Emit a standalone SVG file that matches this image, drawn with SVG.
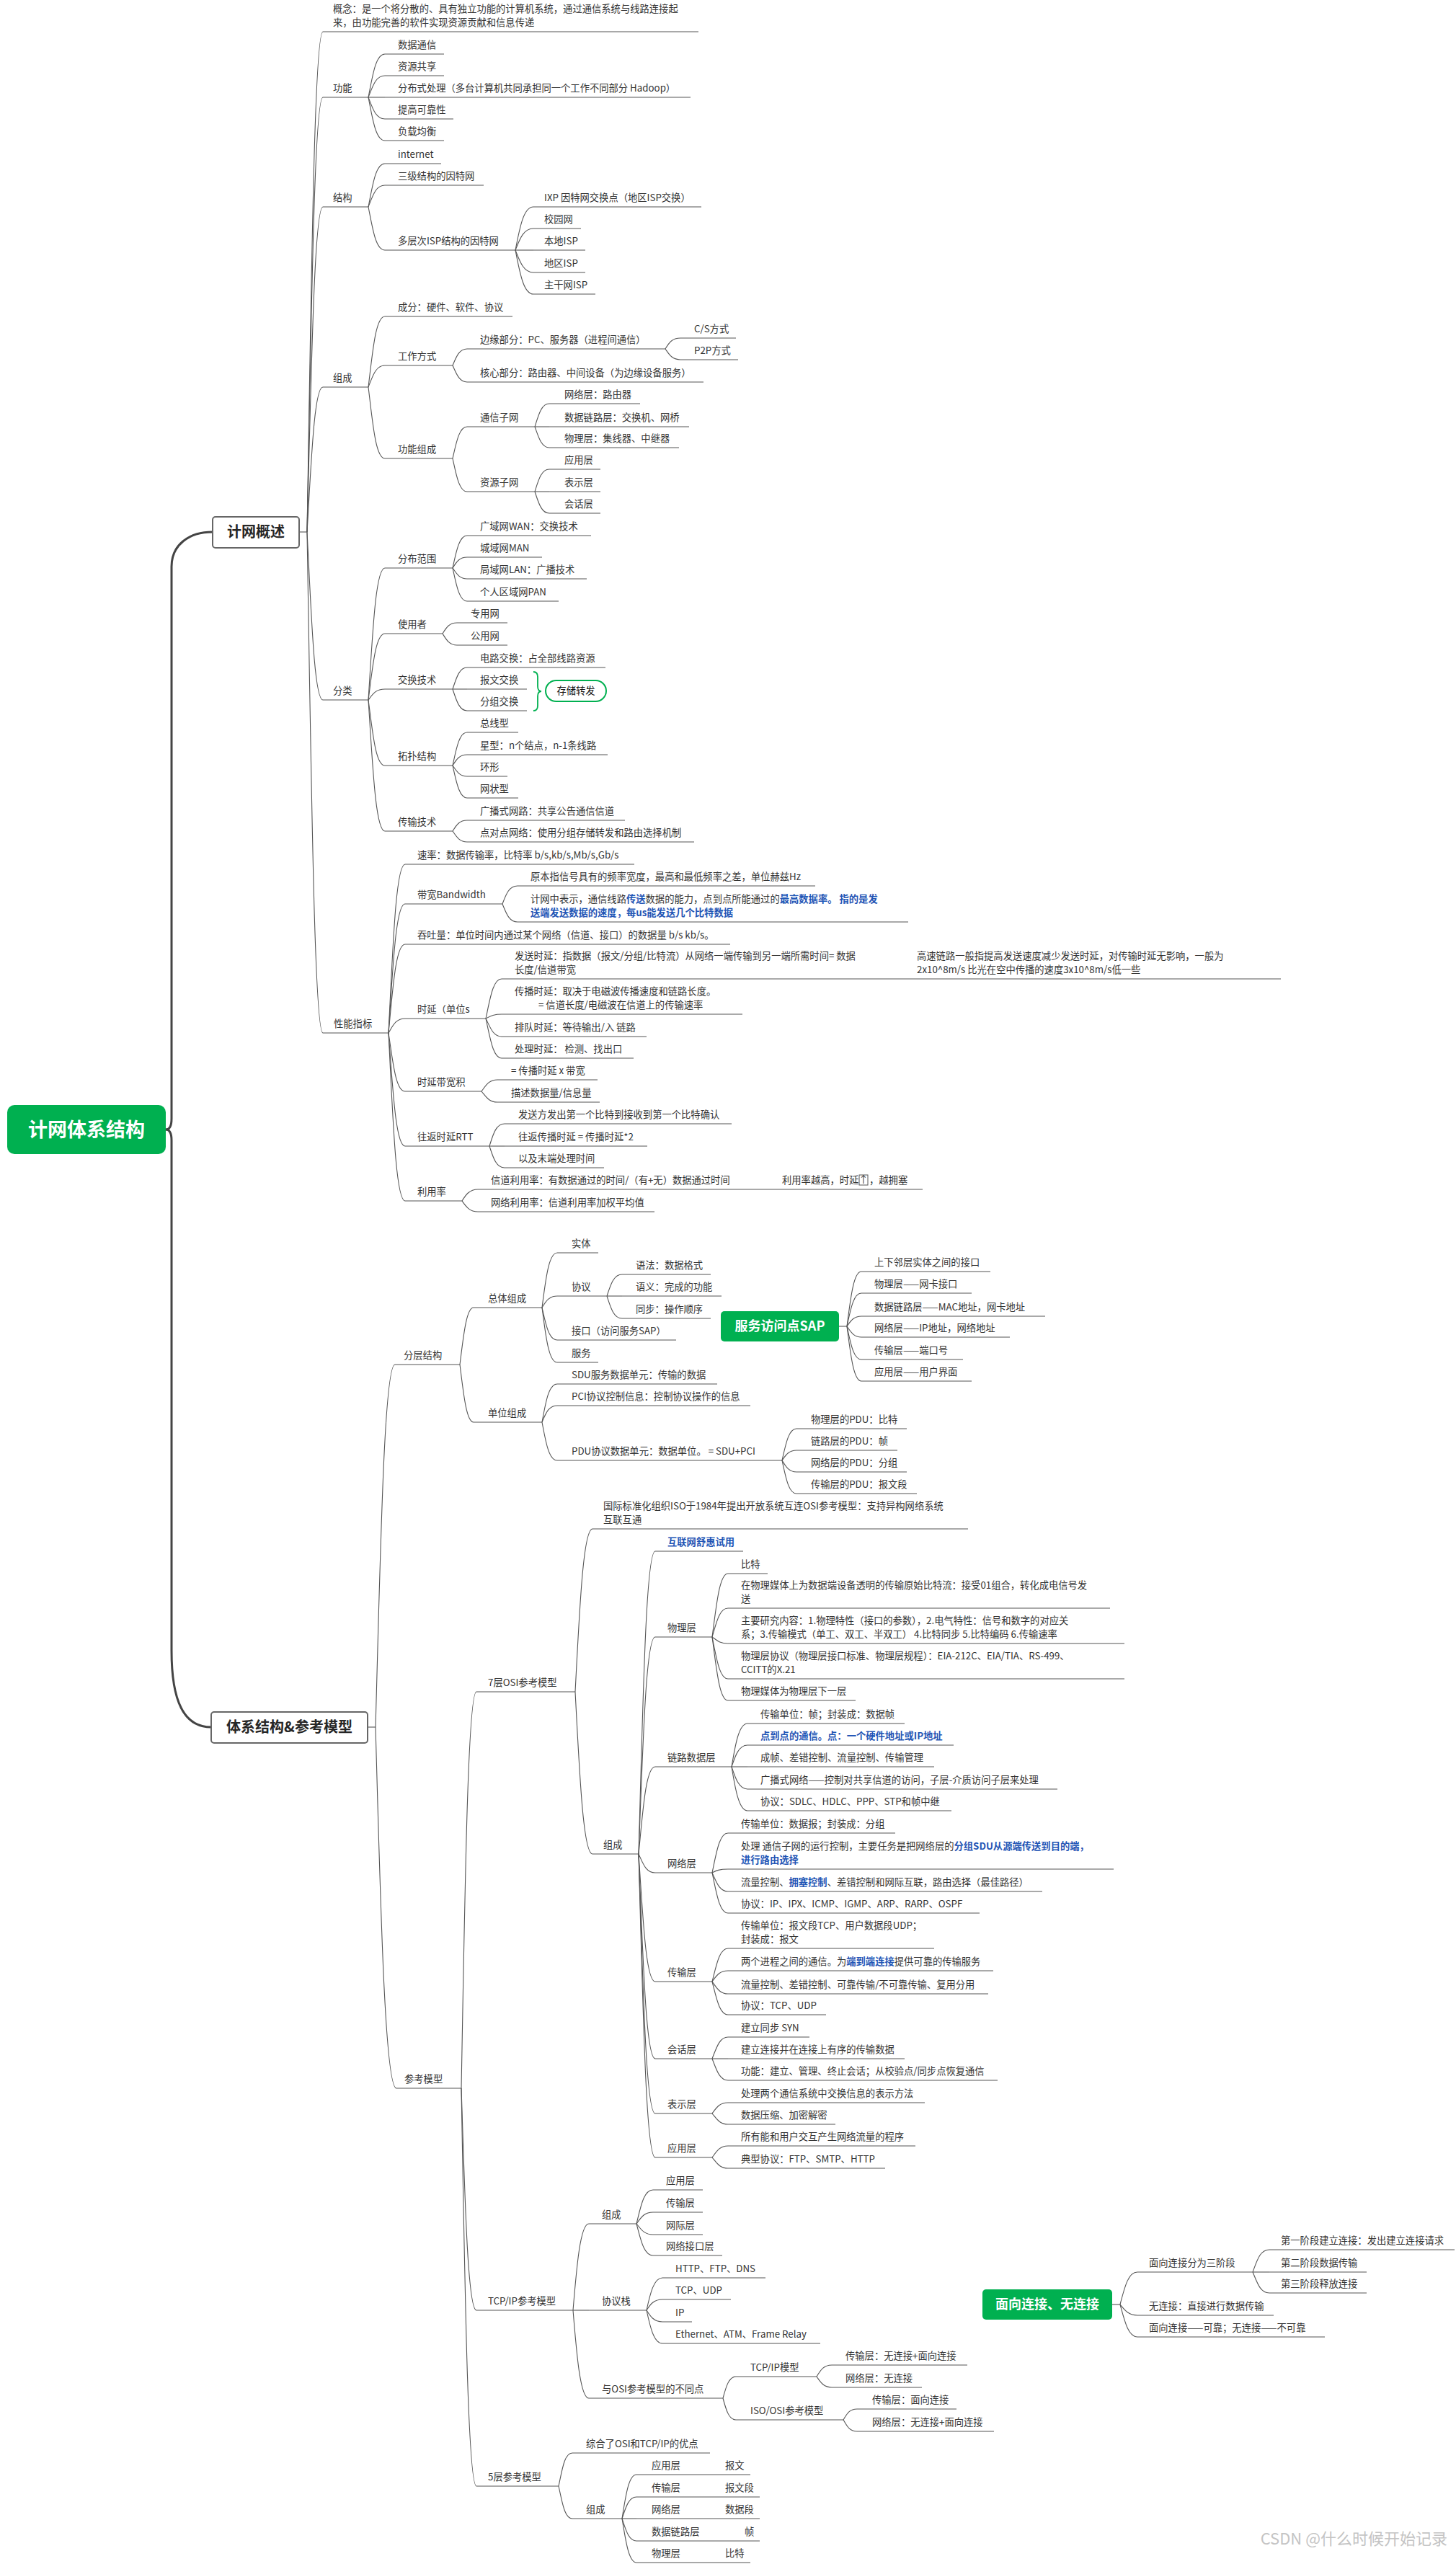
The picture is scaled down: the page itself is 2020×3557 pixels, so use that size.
<svg xmlns="http://www.w3.org/2000/svg" width="2020" height="3557" viewBox="0 0 2020 3557">
<style>
.t{font-family:"Noto Sans CJK SC","Microsoft YaHei","Liberation Sans",sans-serif;font-size:13.3px;fill:#333}
.b{fill:#1f55b5;font-weight:bold}
.u,.c{fill:none;stroke:#555;stroke-width:1.1}
.k{fill:none;stroke:#444;stroke-width:3}
.box{fill:#fff;stroke:#666;stroke-width:2}
.bt{font-family:"Noto Sans CJK SC","Microsoft YaHei",sans-serif;font-size:20px;font-weight:bold;fill:#262626;text-anchor:middle}
.g{fill:#00b050}
.gt{font-family:"Noto Sans CJK SC","Microsoft YaHei",sans-serif;font-size:18px;font-weight:bold;fill:#fff;text-anchor:middle}
</style>
<rect width="2020" height="3557" fill="#fff"/>

<g id="connectors">
<!-- root to main topics -->
<path class="k" d="M230 1567C236 1567 238 1562 238 1552L238 786C238 756 262 738 295 738"/>
<path class="k" d="M230 1567C236 1567 238 1572 238 1582L238 2290C238 2360 255 2396 293 2396"/>
<!-- 计网概述 -->
<path class="c" d="M415 738H426"/>
<path class="c" d="M426 738C432 391 436 44 448 44"/>
<path class="c" d="M426 738C432 436 436 135 448 135"/>
<path class="c" d="M426 738C432 512 436 287 448 287"/>
<path class="c" d="M426 738C432 637 436 537 448 537"/>
<path class="c" d="M426 738C432 854 436 971 448 971"/>
<path class="c" d="M426 738C432 1085 436 1433 448 1433"/>
<!-- 功能 -->
<path class="c" d="M511 135C517 105 521 75 534 75"/>
<path class="c" d="M511 135C517 120 521 105 534 105"/>
<path class="c" d="M511 135H534"/>
<path class="c" d="M511 135C517 150 521 165 534 165"/>
<path class="c" d="M511 135C517 165 521 195 534 195"/>
<!-- 结构 -->
<path class="c" d="M511 287C517 257 521 227 534 227"/>
<path class="c" d="M511 287C517 272 521 257 534 257"/>
<path class="c" d="M511 287C517 317 521 347 534 347"/>
<path class="c" d="M715 347C721 317 726 287 740 287"/>
<path class="c" d="M715 347C721 332 726 317 740 317"/>
<path class="c" d="M715 347H740"/>
<path class="c" d="M715 347C721 362 726 378 740 378"/>
<path class="c" d="M715 347C721 377 726 408 740 408"/>
<!-- 组成 -->
<path class="c" d="M511 537C517 488 521 439 534 439"/>
<path class="c" d="M511 537C517 522 521 507 534 507"/>
<path class="c" d="M511 537C517 586 521 636 534 636"/>
<path class="c" d="M628 507C633 495 637 484 648 484"/>
<path class="c" d="M628 507C633 518 637 530 648 530"/>
<path class="c" d="M923 484C928 476 932 469 944 469"/>
<path class="c" d="M923 484C928 491 932 499 944 499"/>
<path class="c" d="M628 636C633 614 637 592 648 592"/>
<path class="c" d="M628 636C633 659 637 682 648 682"/>
<path class="c" d="M742 592C747 576 751 560 762 560"/>
<path class="c" d="M742 592H762"/>
<path class="c" d="M742 592C747 606 751 621 762 621"/>
<path class="c" d="M742 682C747 666 751 651 762 651"/>
<path class="c" d="M742 682H762"/>
<path class="c" d="M742 682C747 697 751 712 762 712"/>
<!-- 分类 -->
<path class="c" d="M511 971C517 879 521 788 534 788"/>
<path class="c" d="M511 971C517 925 521 879 534 879"/>
<path class="c" d="M511 971C517 963 521 956 534 956"/>
<path class="c" d="M511 971C517 1016 521 1062 534 1062"/>
<path class="c" d="M511 971C517 1062 521 1153 534 1153"/>
<path class="c" d="M628 788C633 765 637 743 648 743"/>
<path class="c" d="M628 788C633 780 637 773 648 773"/>
<path class="c" d="M628 788C633 795 637 803 648 803"/>
<path class="c" d="M628 788C633 811 637 834 648 834"/>
<path class="c" d="M614 879C619 871 623 864 634 864"/>
<path class="c" d="M614 879C619 887 623 895 634 895"/>
<path class="c" d="M628 956C633 941 637 926 648 926"/>
<path class="c" d="M628 956H648"/>
<path class="c" d="M628 956C633 971 637 986 648 986"/>
<path class="c" d="M628 1062C633 1039 637 1016 648 1016"/>
<path class="c" d="M628 1062C633 1054 637 1047 648 1047"/>
<path class="c" d="M628 1062C633 1069 637 1077 648 1077"/>
<path class="c" d="M628 1062C633 1084 637 1107 648 1107"/>
<path class="c" d="M628 1153C633 1145 637 1138 648 1138"/>
<path class="c" d="M628 1153C633 1160 637 1168 648 1168"/>
<!-- 性能指标 -->
<path class="c" d="M539 1433C545 1316 549 1199 562 1199"/>
<path class="c" d="M539 1433C545 1343 549 1254 562 1254"/>
<path class="c" d="M539 1433C545 1371 549 1310 562 1310"/>
<path class="c" d="M539 1433C545 1423 549 1413 562 1413"/>
<path class="c" d="M539 1433C545 1473 549 1514 562 1514"/>
<path class="c" d="M539 1433C545 1511 549 1590 562 1590"/>
<path class="c" d="M539 1433C545 1549 549 1666 562 1666"/>
<path class="c" d="M697 1254C702 1241 706 1229 718 1229"/>
<path class="c" d="M697 1254C702 1266 706 1279 718 1279"/>
<path class="c" d="M674 1413C680 1385 684 1358 696 1358"/>
<path class="c" d="M674 1413C680 1410 684 1407 696 1407"/>
<path class="c" d="M674 1413C680 1425 684 1438 696 1438"/>
<path class="c" d="M674 1413C680 1440 684 1468 696 1468"/>
<path class="c" d="M668 1514C674 1506 678 1498 690 1498"/>
<path class="c" d="M668 1514C674 1521 678 1529 690 1529"/>
<path class="c" d="M679 1590C684 1574 688 1559 700 1559"/>
<path class="c" d="M679 1590H700"/>
<path class="c" d="M679 1590C684 1605 688 1620 700 1620"/>
<path class="c" d="M641 1666C646 1658 651 1650 663 1650"/>
<path class="c" d="M641 1666C646 1673 651 1681 663 1681"/>
<!-- 体系结构&参考模型 -->
<path class="c" d="M510 2396H521"/>
<path class="c" d="M521 2396C528 2144 533 1893 548 1893"/>
<path class="c" d="M521 2396C528 2646 534 2897 550 2897"/>
<path class="c" d="M638 1893C643 1853 647 1814 657 1814"/>
<path class="c" d="M638 1893C643 1933 647 1973 657 1973"/>
<path class="c" d="M752 1814C757 1776 761 1738 773 1738"/>
<path class="c" d="M752 1814C757 1806 761 1798 773 1798"/>
<path class="c" d="M752 1814C757 1836 761 1859 773 1859"/>
<path class="c" d="M752 1814C757 1852 761 1890 773 1890"/>
<path class="c" d="M842 1798C847 1783 851 1768 863 1768"/>
<path class="c" d="M842 1798H863"/>
<path class="c" d="M842 1798C847 1813 851 1829 863 1829"/>
<path class="c" d="M752 1973C757 1946 761 1920 773 1920"/>
<path class="c" d="M752 1973C757 1961 761 1950 773 1950"/>
<path class="c" d="M752 1973C757 1999 761 2026 773 2026"/>
<path class="c" d="M1085 2026C1090 2004 1094 1982 1105 1982"/>
<path class="c" d="M1085 2026C1090 2019 1094 2012 1105 2012"/>
<path class="c" d="M1085 2026C1090 2034 1094 2042 1105 2042"/>
<path class="c" d="M1085 2026C1090 2049 1094 2072 1105 2072"/>
<!-- 服务访问点SAP -->
<path class="c" d="M1164 1840H1175"/>
<path class="c" d="M1175 1840C1180 1802 1184 1764 1195 1764"/>
<path class="c" d="M1175 1840C1180 1817 1184 1794 1195 1794"/>
<path class="c" d="M1175 1840C1180 1833 1184 1826 1195 1826"/>
<path class="c" d="M1175 1840C1180 1847 1184 1855 1195 1855"/>
<path class="c" d="M1175 1840C1180 1863 1184 1886 1195 1886"/>
<path class="c" d="M1175 1840C1180 1878 1184 1916 1195 1916"/>
<!-- 参考模型 -->
<path class="c" d="M640 2897C645 2622 649 2347 661 2347"/>
<path class="c" d="M640 2897C645 3051 649 3205 661 3205"/>
<path class="c" d="M640 2897C645 3173 649 3449 661 3449"/>
<path class="c" d="M798 2347C804 2234 809 2121 822 2121"/>
<path class="c" d="M798 2347C804 2459 809 2572 822 2572"/>
<path class="c" d="M886 2572C892 2362 896 2152 909 2152"/>
<path class="c" d="M886 2572C892 2421 896 2271 909 2271"/>
<path class="c" d="M886 2572C892 2511 896 2451 909 2451"/>
<path class="c" d="M886 2572C892 2585 896 2598 909 2598"/>
<path class="c" d="M886 2572C892 2660 896 2749 909 2749"/>
<path class="c" d="M886 2572C892 2714 896 2856 909 2856"/>
<path class="c" d="M886 2572C892 2752 896 2932 909 2932"/>
<path class="c" d="M886 2572C892 2782 896 2993 909 2993"/>
<path class="c" d="M988 2271C994 2227 998 2183 1010 2183"/>
<path class="c" d="M988 2271C994 2251 998 2231 1010 2231"/>
<path class="c" d="M988 2271C994 2275 998 2280 1010 2280"/>
<path class="c" d="M988 2271C994 2300 998 2329 1010 2329"/>
<path class="c" d="M988 2271C994 2315 998 2359 1010 2359"/>
<path class="c" d="M1015 2451C1020 2421 1025 2391 1037 2391"/>
<path class="c" d="M1015 2451C1020 2436 1025 2421 1037 2421"/>
<path class="c" d="M1015 2451H1037"/>
<path class="c" d="M1015 2451C1020 2466 1025 2482 1037 2482"/>
<path class="c" d="M1015 2451C1020 2481 1025 2512 1037 2512"/>
<path class="c" d="M988 2598C994 2570 998 2543 1010 2543"/>
<path class="c" d="M988 2598C994 2595 998 2593 1010 2593"/>
<path class="c" d="M988 2598C994 2611 998 2624 1010 2624"/>
<path class="c" d="M988 2598C994 2626 998 2654 1010 2654"/>
<path class="c" d="M988 2749C994 2726 998 2703 1010 2703"/>
<path class="c" d="M988 2749C994 2741 998 2734 1010 2734"/>
<path class="c" d="M988 2749C994 2757 998 2766 1010 2766"/>
<path class="c" d="M988 2749C994 2772 998 2795 1010 2795"/>
<path class="c" d="M988 2856C994 2841 998 2826 1010 2826"/>
<path class="c" d="M988 2856H1010"/>
<path class="c" d="M988 2856C994 2871 998 2886 1010 2886"/>
<path class="c" d="M988 2932C994 2924 998 2917 1010 2917"/>
<path class="c" d="M988 2932C994 2939 998 2947 1010 2947"/>
<path class="c" d="M988 2993C994 2985 998 2977 1010 2977"/>
<path class="c" d="M988 2993C994 3000 998 3008 1010 3008"/>
<path class="c" d="M795 3205C800 3145 805 3085 817 3085"/>
<path class="c" d="M795 3205H817"/>
<path class="c" d="M795 3205C800 3266 805 3327 817 3327"/>
<path class="c" d="M883 3085C889 3061 893 3038 906 3038"/>
<path class="c" d="M883 3085C889 3077 893 3069 906 3069"/>
<path class="c" d="M883 3085C889 3092 893 3100 906 3100"/>
<path class="c" d="M883 3085C889 3107 893 3129 906 3129"/>
<path class="c" d="M897 3205C902 3182 907 3160 919 3160"/>
<path class="c" d="M897 3205C902 3197 907 3190 919 3190"/>
<path class="c" d="M897 3205C902 3213 907 3221 919 3221"/>
<path class="c" d="M897 3205C902 3228 907 3251 919 3251"/>
<path class="c" d="M1003 3327C1007 3312 1011 3297 1021 3297"/>
<path class="c" d="M1003 3327C1007 3342 1011 3357 1021 3357"/>
<path class="c" d="M1133 3297C1138 3289 1142 3281 1154 3281"/>
<path class="c" d="M1133 3297C1138 3304 1142 3312 1154 3312"/>
<path class="c" d="M1170 3357C1175 3349 1178 3342 1189 3342"/>
<path class="c" d="M1170 3357C1175 3365 1178 3373 1189 3373"/>
<path class="c" d="M775 3449C780 3426 783 3403 794 3403"/>
<path class="c" d="M775 3449C780 3471 783 3494 794 3494"/>
<path class="c" d="M863 3494C868 3463 872 3433 883 3433"/>
<path class="c" d="M863 3494C868 3479 872 3464 883 3464"/>
<path class="c" d="M863 3494H883"/>
<path class="c" d="M863 3494C868 3509 872 3525 883 3525"/>
<path class="c" d="M863 3494C868 3524 872 3555 883 3555"/>
<!-- 面向连接、无连接 -->
<path class="c" d="M1543 3197H1554"/>
<path class="c" d="M1554 3197C1560 3174 1565 3152 1578 3152"/>
<path class="c" d="M1554 3197C1560 3204 1565 3212 1578 3212"/>
<path class="c" d="M1554 3197C1560 3219 1565 3242 1578 3242"/>
<path class="c" d="M1738 3152C1744 3136 1748 3121 1761 3121"/>
<path class="c" d="M1738 3152H1761"/>
<path class="c" d="M1738 3152C1744 3166 1748 3181 1761 3181"/>
</g>

<!-- central topic -->
<g id="root">
<rect class="g" x="10" y="1533" width="220" height="68" rx="10"/>
<text x="120" y="1577" font-family="Noto Sans CJK SC,Microsoft YaHei,sans-serif" font-size="27" font-weight="bold" fill="#fff" text-anchor="middle">计网体系结构</text>
</g>

<!-- ===== 计网概述 ===== -->
<g id="topic-overview"><rect class="box" x="295" y="717" width="120" height="43" rx="4"/><text class="bt" x="355" y="745">计网概述</text></g>

<g id="n-concept"><text class="t" x="462" y="17">概念：是一个将分散的、具有独立功能的计算机系统，通过通信系统与线路连接起</text><text class="t" x="462" y="36">来，由功能完善的软件实现资源贡献和信息传递</text><path class="u" d="M448 44H969"/></g>

<g id="n-func"><text class="t" x="462" y="127">功能</text><path class="u" d="M448 135H511"/></g>
<g id="n-func-1"><text class="t" x="552" y="67">数据通信</text><path class="u" d="M534 75H616"/></g>
<g id="n-func-2"><text class="t" x="552" y="97">资源共享</text><path class="u" d="M534 105H616"/></g>
<g id="n-func-3"><text class="t" x="552" y="127">分布式处理（多台计算机共同承担同一个工作不同部分 Hadoop）</text><path class="u" d="M534 135H958"/></g>
<g id="n-func-4"><text class="t" x="552" y="157">提高可靠性</text><path class="u" d="M534 165H629"/></g>
<g id="n-func-5"><text class="t" x="552" y="187">负载均衡</text><path class="u" d="M534 195H616"/></g>

<g id="n-struct"><text class="t" x="462" y="279">结构</text><path class="u" d="M448 287H511"/></g>
<g id="n-struct-1"><text class="t" x="552" y="219">internet</text><path class="u" d="M534 227H612"/></g>
<g id="n-struct-2"><text class="t" x="552" y="249">三级结构的因特网</text><path class="u" d="M534 257H671"/></g>
<g id="n-struct-3"><text class="t" x="552" y="339">多层次ISP结构的因特网</text><path class="u" d="M534 347H715"/></g>
<g id="n-struct-3-1"><text class="t" x="755" y="279">IXP 因特网交换点（地区ISP交换）</text><path class="u" d="M740 287H973"/></g>
<g id="n-struct-3-2"><text class="t" x="755" y="309">校园网</text><path class="u" d="M740 317H806"/></g>
<g id="n-struct-3-3"><text class="t" x="755" y="339">本地ISP</text><path class="u" d="M740 347H812"/></g>
<g id="n-struct-3-4"><text class="t" x="755" y="370">地区ISP</text><path class="u" d="M740 378H812"/></g>
<g id="n-struct-3-5"><text class="t" x="755" y="400">主干网ISP</text><path class="u" d="M740 408H826"/></g>

<g id="n-comp"><text class="t" x="462" y="529">组成</text><path class="u" d="M448 537H511"/></g>
<g id="n-comp-1"><text class="t" x="552" y="431">成分：硬件、软件、协议</text><path class="u" d="M534 439H711"/></g>
<g id="n-comp-2"><text class="t" x="552" y="499">工作方式</text><path class="u" d="M534 507H628"/></g>
<g id="n-comp-2-1"><text class="t" x="666" y="476">边缘部分：PC、服务器（进程间通信）</text><path class="u" d="M648 484H923"/></g>
<g id="n-comp-2-1-1"><text class="t" x="963" y="461">C/S方式</text><path class="u" d="M944 469H1021"/></g>
<g id="n-comp-2-1-2"><text class="t" x="963" y="491">P2P方式</text><path class="u" d="M944 499H1024"/></g>
<g id="n-comp-2-2"><text class="t" x="666" y="522">核心部分：路由器、中间设备（为边缘设备服务）</text><path class="u" d="M648 530H976"/></g>
<g id="n-comp-3"><text class="t" x="552" y="628">功能组成</text><path class="u" d="M534 636H628"/></g>
<g id="n-comp-3-1"><text class="t" x="666" y="584">通信子网</text><path class="u" d="M648 592H742"/></g>
<g id="n-comp-3-1-1"><text class="t" x="783" y="552">网络层：路由器</text><path class="u" d="M762 560H888"/></g>
<g id="n-comp-3-1-2"><text class="t" x="783" y="584">数据链路层：交换机、网桥</text><path class="u" d="M762 592H956"/></g>
<g id="n-comp-3-1-3"><text class="t" x="783" y="613">物理层：集线器、中继器</text><path class="u" d="M762 621H942"/></g>
<g id="n-comp-3-2"><text class="t" x="666" y="674">资源子网</text><path class="u" d="M648 682H742"/></g>
<g id="n-comp-3-2-1"><text class="t" x="783" y="643">应用层</text><path class="u" d="M762 651H833"/></g>
<g id="n-comp-3-2-2"><text class="t" x="783" y="674">表示层</text><path class="u" d="M762 682H833"/></g>
<g id="n-comp-3-2-3"><text class="t" x="783" y="704">会话层</text><path class="u" d="M762 712H833"/></g>

<g id="n-class"><text class="t" x="462" y="963">分类</text><path class="u" d="M448 971H511"/></g>
<g id="n-class-1"><text class="t" x="552" y="780">分布范围</text><path class="u" d="M534 788H628"/></g>
<g id="n-class-1-1"><text class="t" x="666" y="735">广域网WAN：交换技术</text><path class="u" d="M648 743H820"/></g>
<g id="n-class-1-2"><text class="t" x="666" y="765">城域网MAN</text><path class="u" d="M648 773H752"/></g>
<g id="n-class-1-3"><text class="t" x="666" y="795">局域网LAN：广播技术</text><path class="u" d="M648 803H814"/></g>
<g id="n-class-1-4"><text class="t" x="666" y="826">个人区域网PAN</text><path class="u" d="M648 834H775"/></g>
<g id="n-class-2"><text class="t" x="552" y="871">使用者</text><path class="u" d="M534 879H614"/></g>
<g id="n-class-2-1"><text class="t" x="653" y="856">专用网</text><path class="u" d="M634 864H704"/></g>
<g id="n-class-2-2"><text class="t" x="653" y="887">公用网</text><path class="u" d="M634 895H704"/></g>
<g id="n-class-3"><text class="t" x="552" y="948">交换技术</text><path class="u" d="M534 956H628"/></g>
<g id="n-class-3-1"><text class="t" x="666" y="918">电路交换：占全部线路资源</text><path class="u" d="M648 926H840"/></g>
<g id="n-class-3-2"><text class="t" x="666" y="948">报文交换</text><path class="u" d="M648 956H731"/></g>
<g id="n-class-3-3"><text class="t" x="666" y="978">分组交换</text><path class="u" d="M648 986H731"/></g>
<g id="n-store-forward">
<path d="M740 932Q746 932 746 939L746 952Q746 959 751 959Q746 959 746 966L746 979Q746 986 740 986" fill="none" stroke="#00b050" stroke-width="1.8"/>
<rect x="757" y="944" width="84" height="29" rx="14.5" fill="#fff" stroke="#00b050" stroke-width="2"/>
<text class="t" x="799" y="963" text-anchor="middle" style="fill:#111">存储转发</text>
</g>
<g id="n-class-4"><text class="t" x="552" y="1054">拓扑结构</text><path class="u" d="M534 1062H628"/></g>
<g id="n-class-4-1"><text class="t" x="666" y="1008">总线型</text><path class="u" d="M648 1016H719"/></g>
<g id="n-class-4-2"><text class="t" x="666" y="1039">星型：n个结点，n-1条线路</text><path class="u" d="M648 1047H843"/></g>
<g id="n-class-4-3"><text class="t" x="666" y="1069">环形</text><path class="u" d="M648 1077H704"/></g>
<g id="n-class-4-4"><text class="t" x="666" y="1099">网状型</text><path class="u" d="M648 1107H719"/></g>
<g id="n-class-5"><text class="t" x="552" y="1145">传输技术</text><path class="u" d="M534 1153H628"/></g>
<g id="n-class-5-1"><text class="t" x="666" y="1130">广播式网路：共享公告通信信道</text><path class="u" d="M648 1138H867"/></g>
<g id="n-class-5-2"><text class="t" x="666" y="1160">点对点网络：使用分组存储转发和路由选择机制</text><path class="u" d="M648 1168H963"/></g>

<g id="n-perf"><text class="t" x="463" y="1425">性能指标</text><path class="u" d="M448 1433H539"/></g>
<g id="n-perf-1"><text class="t" x="579" y="1191">速率：数据传输率，比特率 b/s,kb/s,Mb/s,Gb/s</text><path class="u" d="M562 1199H880"/></g>
<g id="n-perf-2"><text class="t" x="579" y="1246">带宽Bandwidth</text><path class="u" d="M562 1254H697"/></g>
<g id="n-perf-2-1"><text class="t" x="736" y="1221">原本指信号具有的频率宽度，最高和最低频率之差，单位赫兹Hz</text><path class="u" d="M718 1229H1131"/></g>
<g id="n-perf-2-2"><text class="t" x="736" y="1252">计网中表示，通信线路<tspan class="b">传送</tspan>数据的能力，点到点所能通过的<tspan class="b">最高数据率。 指的是发</tspan></text><text class="t b" x="736" y="1271">送端发送数据的速度，每us能发送几个比特数据</text><path class="u" d="M718 1279H1260"/></g>
<g id="n-perf-3"><text class="t" x="579" y="1302">吞吐量：单位时间内通过某个网络（信道、接口）的数据量 b/s kb/s。</text><path class="u" d="M562 1310H1013"/></g>
<g id="n-perf-4"><text class="t" x="579" y="1405">时延（单位s</text><path class="u" d="M562 1413H674"/></g>
<g id="n-perf-4-1"><text class="t" x="714" y="1331">发送时延：指数据（报文/分组/比特流）从网络一端传输到另一端所需时间= 数据</text><text class="t" x="714" y="1350">长度/信道带宽</text><text class="t" x="1272" y="1331">高速链路一般指提高发送速度减少发送时延，对传输时延无影响，一般为</text><text class="t" x="1272" y="1350">2x10^8m/s 比光在空中传播的速度3x10^8m/s低一些</text><path class="u" d="M696 1358H1777"/></g>
<g id="n-perf-4-2"><text class="t" x="714" y="1380">传播时延：取决于电磁波传播速度和链路长度。</text><text class="t" x="747" y="1399">= 信道长度/电磁波在信道上的传输速率</text><path class="u" d="M696 1407H1030"/></g>
<g id="n-perf-4-3"><text class="t" x="714" y="1430">排队时延：等待输出/入 链路</text><path class="u" d="M696 1438H897"/></g>
<g id="n-perf-4-4"><text class="t" x="714" y="1460">处理时延： 检测、找出口</text><path class="u" d="M696 1468H879"/></g>
<g id="n-perf-5"><text class="t" x="579" y="1506">时延带宽积</text><path class="u" d="M562 1514H668"/></g>
<g id="n-perf-5-1"><text class="t" x="709" y="1490">= 传播时延 x 带宽</text><path class="u" d="M690 1498H829"/></g>
<g id="n-perf-5-2"><text class="t" x="709" y="1521">描述数据量/信息量</text><path class="u" d="M690 1529H832"/></g>
<g id="n-perf-6"><text class="t" x="579" y="1582">往返时延RTT</text><path class="u" d="M562 1590H679"/></g>
<g id="n-perf-6-1"><text class="t" x="719" y="1551">发送方发出第一个比特到接收到第一个比特确认</text><path class="u" d="M700 1559H1015"/></g>
<g id="n-perf-6-2"><text class="t" x="719" y="1582">往返传播时延 = 传播时延*2</text><path class="u" d="M700 1590H898"/></g>
<g id="n-perf-6-3"><text class="t" x="719" y="1612">以及末端处理时间</text><path class="u" d="M700 1620H838"/></g>
<g id="n-perf-7"><text class="t" x="579" y="1658">利用率</text><path class="u" d="M562 1666H641"/></g>
<g id="n-perf-7-1"><text class="t" x="681" y="1642">信道利用率：有数据通过的时间/（有+无）数据通过时间</text><text class="t" x="1085" y="1642">利用率越高，时延</text><rect x="1192" y="1630" width="12" height="14" fill="#fff" stroke="#555" stroke-width="1"/><text class="t" x="1198" y="1641" text-anchor="middle" font-size="11">↑</text><text class="t" x="1206" y="1642">，越拥塞</text><path class="u" d="M663 1650H1280"/></g>
<g id="n-perf-7-2"><text class="t" x="681" y="1673">网络利用率：信道利用率加权平均值</text><path class="u" d="M663 1681H908"/></g>

<!-- ===== 体系结构&参考模型 ===== -->
<g id="topic-arch"><rect class="box" x="293" y="2375" width="217" height="43" rx="4"/><text class="bt" x="401.5" y="2403">体系结构&amp;参考模型</text></g>

<g id="n-layer"><text class="t" x="560" y="1885">分层结构</text><path class="u" d="M548 1893H638"/></g>
<g id="n-layer-1"><text class="t" x="677" y="1806">总体组成</text><path class="u" d="M657 1814H752"/></g>
<g id="n-layer-1-1"><text class="t" x="793" y="1730">实体</text><path class="u" d="M773 1738H830"/></g>
<g id="n-layer-1-2"><text class="t" x="793" y="1790">协议</text><path class="u" d="M773 1798H842"/></g>
<g id="n-layer-1-2-1"><text class="t" x="882" y="1760">语法：数据格式</text><path class="u" d="M863 1768H986"/></g>
<g id="n-layer-1-2-2"><text class="t" x="882" y="1790">语义：完成的功能</text><path class="u" d="M863 1798H1001"/></g>
<g id="n-layer-1-2-3"><text class="t" x="882" y="1821">同步：操作顺序</text><path class="u" d="M863 1829H986"/></g>
<g id="n-layer-1-3"><text class="t" x="793" y="1851">接口（访问服务SAP）</text><path class="u" d="M773 1859H938"/></g>
<g id="n-layer-1-4"><text class="t" x="793" y="1882">服务</text><path class="u" d="M773 1890H830"/></g>
<g id="n-layer-2"><text class="t" x="677" y="1965">单位组成</text><path class="u" d="M657 1973H752"/></g>
<g id="n-layer-2-1"><text class="t" x="793" y="1912">SDU服务数据单元：传输的数据</text><path class="u" d="M773 1920H995"/></g>
<g id="n-layer-2-2"><text class="t" x="793" y="1942">PCI协议控制信息：控制协议操作的信息</text><path class="u" d="M773 1950H1041"/></g>
<g id="n-layer-2-3"><text class="t" x="793" y="2018">PDU协议数据单元：数据单位。 = SDU+PCI</text><path class="u" d="M773 2026H1085"/></g>
<g id="n-layer-2-3-1"><text class="t" x="1125" y="1974">物理层的PDU：比特</text><path class="u" d="M1105 1982H1258"/></g>
<g id="n-layer-2-3-2"><text class="t" x="1125" y="2004">链路层的PDU：帧</text><path class="u" d="M1105 2012H1245"/></g>
<g id="n-layer-2-3-3"><text class="t" x="1125" y="2034">网络层的PDU：分组</text><path class="u" d="M1105 2042H1258"/></g>
<g id="n-layer-2-3-4"><text class="t" x="1125" y="2064">传输层的PDU：报文段</text><path class="u" d="M1105 2072H1272"/></g>

<g id="topic-sap"><rect class="g" x="1000" y="1819" width="164" height="42" rx="5"/><text class="gt" x="1082" y="1846">服务访问点SAP</text></g>
<g id="n-sap-1"><text class="t" x="1213" y="1756">上下邻层实体之间的接口</text><path class="u" d="M1195 1764H1374"/></g>
<g id="n-sap-2"><text class="t" x="1213" y="1786">物理层——网卡接口</text><path class="u" d="M1195 1794H1348"/></g>
<g id="n-sap-3"><text class="t" x="1213" y="1818">数据链路层——MAC地址，网卡地址</text><path class="u" d="M1195 1826H1450"/></g>
<g id="n-sap-4"><text class="t" x="1213" y="1847">网络层——IP地址，网络地址</text><path class="u" d="M1195 1855H1401"/></g>
<g id="n-sap-5"><text class="t" x="1213" y="1878">传输层——端口号</text><path class="u" d="M1195 1886H1336"/></g>
<g id="n-sap-6"><text class="t" x="1213" y="1908">应用层——用户界面</text><path class="u" d="M1195 1916H1348"/></g>

<g id="n-ref"><text class="t" x="561" y="2889">参考模型</text><path class="u" d="M550 2897H640"/></g>
<g id="n-osi"><text class="t" x="677" y="2339">7层OSI参考模型</text><path class="u" d="M661 2347H798"/></g>
<g id="n-osi-1"><text class="t" x="837" y="2094">国际标准化组织ISO于1984年提出开放系统互连OSI参考模型：支持异构网络系统</text><text class="t" x="837" y="2113">互联互通</text><path class="u" d="M822 2121H1343"/></g>
<g id="n-osi-2"><text class="t" x="837" y="2564">组成</text><path class="u" d="M822 2572H886"/></g>
<g id="n-osi-2-0"><text class="t b" x="926" y="2144">互联网舒惠试用</text><path class="u" d="M909 2152H1031"/></g>
<g id="n-osi-phy"><text class="t" x="926" y="2263">物理层</text><path class="u" d="M909 2271H988"/></g>
<g id="n-osi-phy-1"><text class="t" x="1028" y="2175">比特</text><path class="u" d="M1010 2183H1065"/></g>
<g id="n-osi-phy-2"><text class="t" x="1028" y="2204">在物理媒体上为数据端设备透明的传输原始比特流：接受01组合，转化成电信号发</text><text class="t" x="1028" y="2223">送</text><path class="u" d="M1010 2231H1540"/></g>
<g id="n-osi-phy-3"><text class="t" x="1028" y="2253">主要研究内容：1.物理特性（接口的参数），2.电气特性：信号和数字的对应关</text><text class="t" x="1028" y="2272">系；3.传输模式（单工、双工、半双工） 4.比特同步 5.比特编码 6.传输速率</text><path class="u" d="M1010 2280H1560"/></g>
<g id="n-osi-phy-4"><text class="t" x="1028" y="2302">物理层协议（物理层接口标准、物理层规程）：EIA-212C、EIA/TIA、RS-499、</text><text class="t" x="1028" y="2321">CCITT的X.21</text><path class="u" d="M1010 2329H1560"/></g>
<g id="n-osi-phy-5"><text class="t" x="1028" y="2351">物理媒体为物理层下一层</text><path class="u" d="M1010 2359H1187"/></g>
<g id="n-osi-dl"><text class="t" x="926" y="2443">链路数据层</text><path class="u" d="M909 2451H1015"/></g>
<g id="n-osi-dl-1"><text class="t" x="1055" y="2383">传输单位：帧；封装成：数据帧</text><path class="u" d="M1037 2391H1255"/></g>
<g id="n-osi-dl-2"><text class="t b" x="1055" y="2413">点到点的通信。点：一个硬件地址或IP地址</text><path class="u" d="M1037 2421H1323"/></g>
<g id="n-osi-dl-3"><text class="t" x="1055" y="2443">成帧、差错控制、流量控制、传输管理</text><path class="u" d="M1037 2451H1296"/></g>
<g id="n-osi-dl-4"><text class="t" x="1055" y="2474">广播式网络——控制对共享信道的访问，子层-介质访问子层来处理</text><path class="u" d="M1037 2482H1467"/></g>
<g id="n-osi-dl-5"><text class="t" x="1055" y="2504">协议：SDLC、HDLC、PPP、STP和帧中继</text><path class="u" d="M1037 2512H1320"/></g>
<g id="n-osi-net"><text class="t" x="926" y="2590">网络层</text><path class="u" d="M909 2598H988"/></g>
<g id="n-osi-net-1"><text class="t" x="1028" y="2535">传输单位：数据报；封装成：分组</text><path class="u" d="M1010 2543H1242"/></g>
<g id="n-osi-net-2"><text class="t" x="1028" y="2566">处理 通信子网的运行控制，主要任务是把网络层的<tspan class="b">分组SDU从源端传送到目的端，</tspan></text><text class="t b" x="1028" y="2585">进行路由选择</text><path class="u" d="M1010 2593H1545"/></g>
<g id="n-osi-net-3"><text class="t" x="1028" y="2616">流量控制、<tspan class="b">拥塞控制</tspan>、差错控制和网际互联，路由选择（最佳路径）</text><path class="u" d="M1010 2624H1446"/></g>
<g id="n-osi-net-4"><text class="t" x="1028" y="2646">协议：IP、IPX、ICMP、IGMP、ARP、RARP、OSPF</text><path class="u" d="M1010 2654H1359"/></g>
<g id="n-osi-tr"><text class="t" x="926" y="2741">传输层</text><path class="u" d="M909 2749H988"/></g>
<g id="n-osi-tr-1"><text class="t" x="1028" y="2676">传输单位：报文段TCP、用户数据段UDP；</text><text class="t" x="1028" y="2695">封装成：报文</text><path class="u" d="M1010 2703H1296"/></g>
<g id="n-osi-tr-2"><text class="t" x="1028" y="2726">两个进程之间的通信。为<tspan class="b">端到端连接</tspan>提供可靠的传输服务</text><path class="u" d="M1010 2734H1378"/></g>
<g id="n-osi-tr-3"><text class="t" x="1028" y="2758">流量控制、差错控制、可靠传输/不可靠传输、复用分用</text><path class="u" d="M1010 2766H1371"/></g>
<g id="n-osi-tr-4"><text class="t" x="1028" y="2787">协议：TCP、UDP</text><path class="u" d="M1010 2795H1146"/></g>
<g id="n-osi-ses"><text class="t" x="926" y="2848">会话层</text><path class="u" d="M909 2856H988"/></g>
<g id="n-osi-ses-1"><text class="t" x="1028" y="2818">建立同步 SYN</text><path class="u" d="M1010 2826H1123"/></g>
<g id="n-osi-ses-2"><text class="t" x="1028" y="2848">建立连接并在连接上有序的传输数据</text><path class="u" d="M1010 2856H1255"/></g>
<g id="n-osi-ses-3"><text class="t" x="1028" y="2878">功能：建立、管理、终止会话；从校验点/同步点恢复通信</text><path class="u" d="M1010 2886H1384"/></g>
<g id="n-osi-pre"><text class="t" x="926" y="2924">表示层</text><path class="u" d="M909 2932H988"/></g>
<g id="n-osi-pre-1"><text class="t" x="1028" y="2909">处理两个通信系统中交换信息的表示方法</text><path class="u" d="M1010 2917H1283"/></g>
<g id="n-osi-pre-2"><text class="t" x="1028" y="2939">数据压缩、加密解密</text><path class="u" d="M1010 2947H1159"/></g>
<g id="n-osi-app"><text class="t" x="926" y="2985">应用层</text><path class="u" d="M909 2993H988"/></g>
<g id="n-osi-app-1"><text class="t" x="1028" y="2969">所有能和用户交互产生网络流量的程序</text><path class="u" d="M1010 2977H1270"/></g>
<g id="n-osi-app-2"><text class="t" x="1028" y="3000">典型协议：FTP、SMTP、HTTP</text><path class="u" d="M1010 3008H1228"/></g>

<g id="n-tcp"><text class="t" x="677" y="3197">TCP/IP参考模型</text><path class="u" d="M661 3205H795"/></g>
<g id="n-tcp-1"><text class="t" x="835" y="3077">组成</text><path class="u" d="M817 3085H883"/></g>
<g id="n-tcp-1-1"><text class="t" x="924" y="3030">应用层</text><path class="u" d="M906 3038H975"/></g>
<g id="n-tcp-1-2"><text class="t" x="924" y="3061">传输层</text><path class="u" d="M906 3069H975"/></g>
<g id="n-tcp-1-3"><text class="t" x="924" y="3092">网际层</text><path class="u" d="M906 3100H975"/></g>
<g id="n-tcp-1-4"><text class="t" x="924" y="3121">网络接口层</text><path class="u" d="M906 3129H1002"/></g>
<g id="n-tcp-2"><text class="t" x="835" y="3197">协议栈</text><path class="u" d="M817 3205H897"/></g>
<g id="n-tcp-2-1"><text class="t" x="937" y="3152">HTTP、FTP、DNS</text><path class="u" d="M919 3160H1062"/></g>
<g id="n-tcp-2-2"><text class="t" x="937" y="3182">TCP、UDP</text><path class="u" d="M919 3190H1014"/></g>
<g id="n-tcp-2-3"><text class="t" x="937" y="3213">IP</text><path class="u" d="M919 3221H960"/></g>
<g id="n-tcp-2-4"><text class="t" x="937" y="3243">Ethernet、ATM、Frame Relay</text><path class="u" d="M919 3251H1138"/></g>
<g id="n-tcp-3"><text class="t" x="835" y="3319">与OSI参考模型的不同点</text><path class="u" d="M817 3327H1003"/></g>
<g id="n-tcp-3-1"><text class="t" x="1041" y="3289">TCP/IP模型</text><path class="u" d="M1021 3297H1133"/></g>
<g id="n-tcp-3-1-1"><text class="t" x="1173" y="3273">传输层：无连接+面向连接</text><path class="u" d="M1154 3281H1342"/></g>
<g id="n-tcp-3-1-2"><text class="t" x="1173" y="3304">网络层：无连接</text><path class="u" d="M1154 3312H1279"/></g>
<g id="n-tcp-3-2"><text class="t" x="1041" y="3349">ISO/OSI参考模型</text><path class="u" d="M1021 3357H1170"/></g>
<g id="n-tcp-3-2-1"><text class="t" x="1210" y="3334">传输层：面向连接</text><path class="u" d="M1189 3342H1327"/></g>
<g id="n-tcp-3-2-2"><text class="t" x="1210" y="3365">网络层：无连接+面向连接</text><path class="u" d="M1189 3373H1379"/></g>

<g id="n-five"><text class="t" x="677" y="3441">5层参考模型</text><path class="u" d="M661 3449H775"/></g>
<g id="n-five-1"><text class="t" x="813" y="3395">综合了OSI和TCP/IP的优点</text><path class="u" d="M794 3403H985"/></g>
<g id="n-five-2"><text class="t" x="813" y="3486">组成</text><path class="u" d="M794 3494H863"/></g>
<g id="n-five-2-1"><text class="t" x="904" y="3425">应用层</text><text class="t" x="1006" y="3425">报文</text><path class="u" d="M883 3433H1041"/></g>
<g id="n-five-2-2"><text class="t" x="904" y="3456">传输层</text><text class="t" x="1006" y="3456">报文段</text><path class="u" d="M883 3464H1054"/></g>
<g id="n-five-2-3"><text class="t" x="904" y="3486">网络层</text><text class="t" x="1006" y="3486">数据段</text><path class="u" d="M883 3494H1054"/></g>
<g id="n-five-2-4"><text class="t" x="904" y="3517">数据链路层</text><text class="t" x="1033" y="3517">帧</text><path class="u" d="M883 3525H1054"/></g>
<g id="n-five-2-5"><text class="t" x="904" y="3547">物理层</text><text class="t" x="1006" y="3547">比特</text><path class="u" d="M883 3555H1041"/></g>

<g id="topic-conn"><rect class="g" x="1363" y="3176" width="180" height="42" rx="5"/><text class="gt" x="1453" y="3203">面向连接、无连接</text></g>
<g id="n-conn-1"><text class="t" x="1594" y="3144">面向连接分为三阶段</text><path class="u" d="M1578 3152H1738"/></g>
<g id="n-conn-1-1"><text class="t" x="1777" y="3113">第一阶段建立连接：发出建立连接请求</text><path class="u" d="M1761 3121H2018"/></g>
<g id="n-conn-1-2"><text class="t" x="1777" y="3144">第二阶段数据传输</text><path class="u" d="M1761 3152H1896"/></g>
<g id="n-conn-1-3"><text class="t" x="1777" y="3173">第三阶段释放连接</text><path class="u" d="M1761 3181H1896"/></g>
<g id="n-conn-2"><text class="t" x="1594" y="3204">无连接：直接进行数据传输</text><path class="u" d="M1578 3212H1767"/></g>
<g id="n-conn-3"><text class="t" x="1594" y="3234">面向连接——可靠；无连接——不可靠</text><path class="u" d="M1578 3242H1838"/></g>

<text x="2008" y="3530" text-anchor="end" font-family="Noto Sans CJK SC,Microsoft YaHei,sans-serif" font-size="22" fill="#c4c4c4">CSDN @什么时候开始记录</text>
</svg>
